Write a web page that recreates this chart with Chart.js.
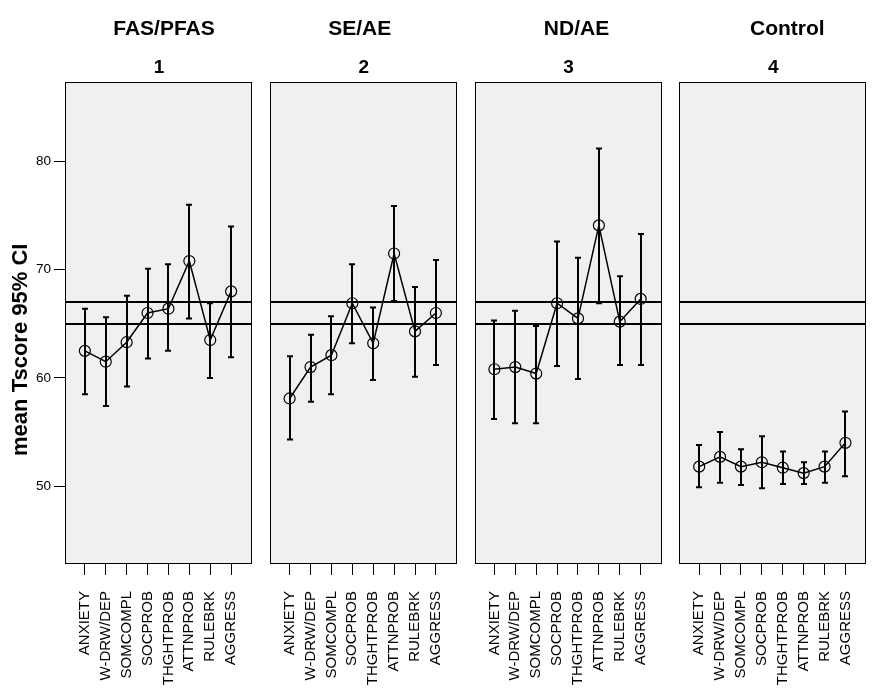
<!DOCTYPE html>
<html>
<head>
<meta charset="utf-8">
<title>mean Tscore 95% CI</title>
<script src="https://cdn.jsdelivr.net/npm/chart.js@4.4.1/dist/chart.umd.min.js"></script>
<style>
  html,body{margin:0;padding:0;background:#fff;overflow:hidden;}
  #wrap{position:relative;width:872px;height:693px;}
</style>
</head>
<body>
<div id="wrap"><canvas id="chart"></canvas></div>
<script>
/* ---------- DATA ---------- */
const categories = ["ANXIETY","W-DRW/DEP","SOMCOMPL","SOCPROB","THGHTPROB","ATTNPROB","RULEBRK","AGGRESS"];
const groups = ["FAS/PFAS","SE/AE","ND/AE","Control"];
const groupNumbers = ["1","2","3","4"];
const yTitle = "mean Tscore 95% CI";

const meanFAS = [62.5, 61.5, 63.3, 66.0, 66.4, 70.8, 63.5, 68.0];
const lowFAS  = [58.5, 57.4, 59.2, 61.8, 62.5, 65.5, 60.0, 61.9];
const highFAS = [66.4, 65.6, 67.6, 70.1, 70.5, 76.0, 66.9, 74.0];

const meanSE = [58.1, 61.0, 62.1, 66.9, 63.2, 71.5, 64.3, 66.0];
const lowSE  = [54.3, 57.8, 58.5, 63.2, 59.8, 67.1, 60.1, 61.2];
const highSE = [62.0, 64.0, 65.7, 70.5, 66.5, 75.9, 68.4, 70.9];

const meanND = [60.8, 61.0, 60.4, 66.9, 65.5, 74.1, 65.2, 67.3];
const lowND  = [56.2, 55.8, 55.8, 61.1, 59.9, 66.9, 61.2, 61.2];
const highND = [65.3, 66.2, 64.8, 72.6, 71.1, 81.2, 69.4, 73.3];

const meanCtl = [51.8, 52.7, 51.8, 52.2, 51.7, 51.2, 51.8, 54.0];
const lowCtl  = [49.9, 50.3, 50.1, 49.8, 50.2, 50.2, 50.3, 50.9];
const highCtl = [53.8, 55.0, 53.4, 54.6, 53.2, 52.2, 53.2, 56.9];

const refLines = [65, 67];
const yTicks = [50, 60, 70, 80];

/* ---------- LAYOUT ---------- */
const FONT = "'Liberation Sans', Arial, Helvetica, sans-serif";
const PITCH = 9.8;      // x units from one panel to the next
const EDGE = 0.95;      // x units between panel border and first/last point
const titleShift = [6, -3, 9, 15];

const series = [
  {mean:meanFAS, low:lowFAS, high:highFAS},
  {mean:meanSE,  low:lowSE,  high:highSE},
  {mean:meanND,  low:lowND,  high:highND},
  {mean:meanCtl, low:lowCtl, high:highCtl}
];
const xOf = (p,i) => p*PITCH + i;
const tickValues = groups.flatMap((g,p)=>categories.map((c,i)=>xOf(p,i)));

/* ---------- PLUGINS ---------- */
const panels = {
  id:"panels",
  beforeDatasetsDraw(chart){
    const {ctx, chartArea:{top,bottom}, scales:{x,y}} = chart;
    ctx.save();
    groups.forEach((g,p)=>{
      const l = Math.round(x.getPixelForValue(xOf(p,0)-EDGE)) + .5;
      const r = Math.round(x.getPixelForValue(xOf(p,categories.length-1)+EDGE)) + .5;
      const t = Math.round(top) + .5, b = Math.round(bottom) - .5;
      ctx.fillStyle = "#f0f0f0";
      ctx.fillRect(l, t, r-l, b-t);

      ctx.strokeStyle = "#000";
      ctx.lineWidth = 2;
      refLines.forEach(v=>{
        const yy = Math.round(y.getPixelForValue(v));
        ctx.beginPath(); ctx.moveTo(l,yy); ctx.lineTo(r,yy); ctx.stroke();
      });

      ctx.lineWidth = 1;
      ctx.strokeRect(l, t, r-l, b-t);

      // error bars
      const s = series[p];
      ctx.lineWidth = 2;
      s.mean.forEach((m,i)=>{
        const xx = Math.round(x.getPixelForValue(xOf(p,i)));
        const y1 = y.getPixelForValue(s.low[i]);
        const y2 = y.getPixelForValue(s.high[i]);
        ctx.beginPath();
        ctx.moveTo(xx,y1); ctx.lineTo(xx,y2);
        ctx.moveTo(xx-3,y1); ctx.lineTo(xx+3,y1);
        ctx.moveTo(xx-3,y2); ctx.lineTo(xx+3,y2);
        ctx.stroke();
      });
    });
    ctx.restore();
  }
};

const facetTitles = {
  id:"facetTitles",
  afterDraw(chart){
    const {ctx, scales:{x,y}} = chart;
    ctx.save();
    ctx.fillStyle = "#000";
    ctx.textAlign = "center";
    ctx.textBaseline = "alphabetic";
    groups.forEach((g,p)=>{
      const cx = x.getPixelForValue(xOf(p,(categories.length-1)/2));
      ctx.font = `bold 21px ${FONT}`;
      ctx.fillText(g, cx + titleShift[p], 35);
      ctx.font = `bold 19px ${FONT}`;
      ctx.fillText(groupNumbers[p], cx + 1, 73);
    });

    // y axis title, sits a little below the middle of the axis as in SPSS
    ctx.translate(27, y.getPixelForValue(62.6));
    ctx.rotate(-Math.PI/2);
    ctx.font = `bold 22px ${FONT}`;
    ctx.fillText(yTitle, 0, 0);
    ctx.restore();
  }
};

/* ---------- CHART ---------- */
new Chart(document.getElementById("chart"),{
  type:"line",
  data:{
    datasets: series.map((s,p)=>({
      label: groups[p],
      data: s.mean.map((m,i)=>({x:xOf(p,i), y:m})),
      borderColor:"#000",
      borderWidth:1.5,
      tension:0,
      pointStyle:"circle",
      pointRadius:5.5,
      pointHoverRadius:5.5,
      pointBorderWidth:1.2,
      pointBorderColor:"#000",
      pointBackgroundColor:"rgba(0,0,0,0)"
    }))
  },
  options:{
    responsive:true,
    maintainAspectRatio:false,
    animation:false,
    events:[],
    layout:{padding:{top:82,right:4,bottom:0,left:0}},
    plugins:{legend:{display:false}, tooltip:{enabled:false}},
    scales:{
      x:{
        type:"linear",
        min:-EDGE,
        max:xOf(groups.length-1,categories.length-1)+EDGE,
        afterBuildTicks:s=>{ s.ticks = tickValues.map(v=>({value:v})); },
        afterFit:s=>{ s.height = 129; s.paddingLeft = 0; s.paddingRight = 0; },
        border:{display:false},
        grid:{drawOnChartArea:false, drawTicks:true, tickLength:11, color:"#000", lineWidth:1},
        ticks:{
          autoSkip:false, minRotation:90, maxRotation:90, padding:16,
          color:"#000", font:{family:FONT, size:15},
          callback:(v,i)=>categories[i % categories.length]
        }
      },
      y:{
        min:42.8,
        max:87.35,
        afterBuildTicks:s=>{ s.ticks = yTicks.map(v=>({value:v})); },
        afterFit:s=>{ s.width = 65; s.paddingTop = 0; s.paddingBottom = 0; },
        border:{display:false},
        grid:{drawOnChartArea:false, drawTicks:true, tickLength:11, color:"#000", lineWidth:1},
        ticks:{padding:3, color:"#000", font:{family:FONT, size:13.5}},
        title:{display:false}
      }
    }
  },
  plugins:[panels, facetTitles]
});
</script>
</body>
</html>
